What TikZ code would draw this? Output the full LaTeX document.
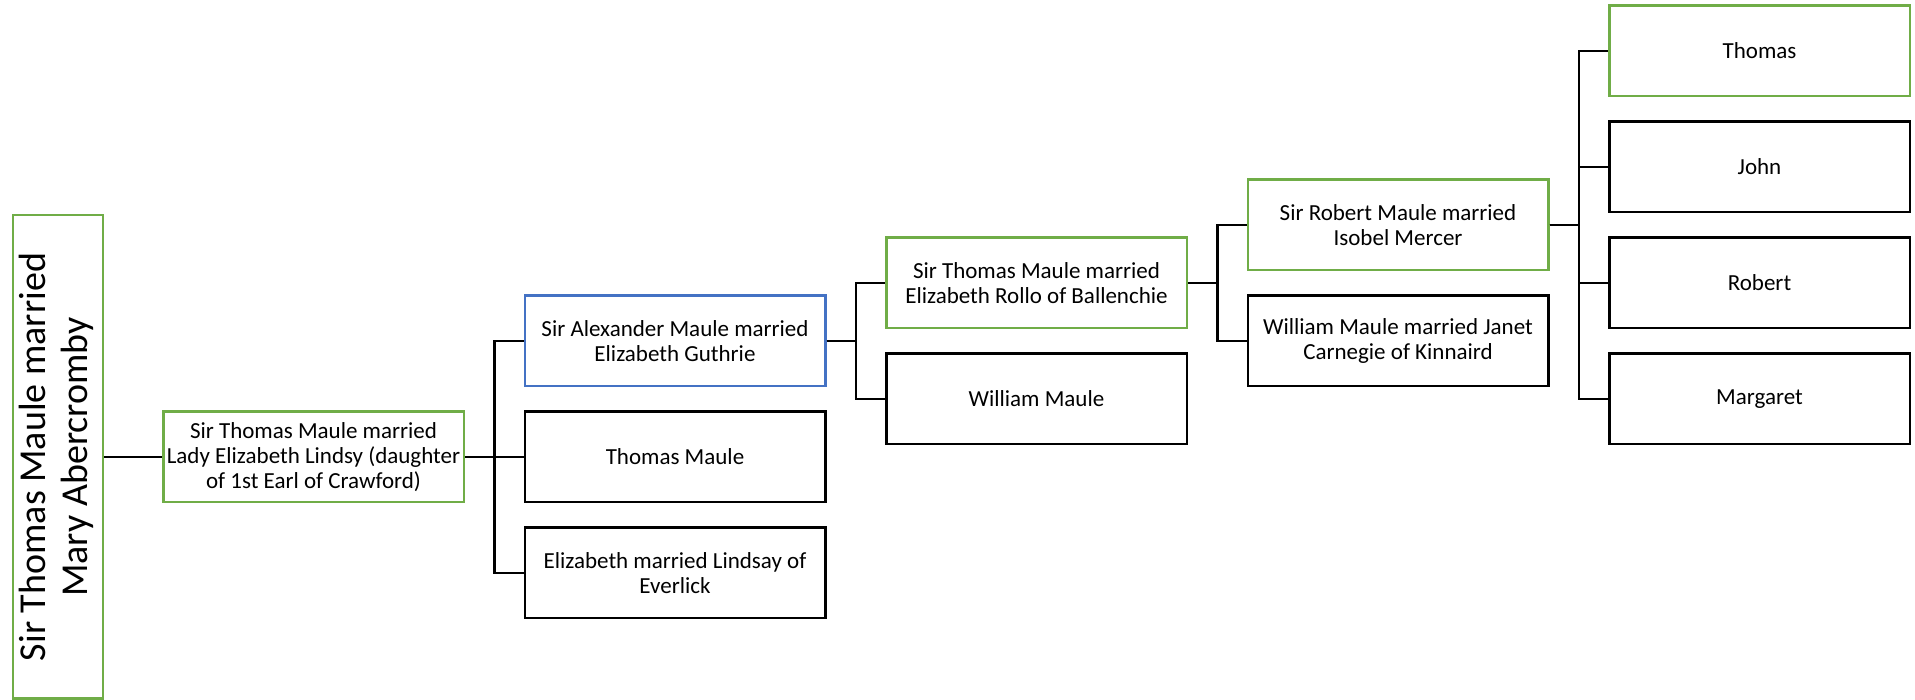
\documentclass[tikz,border=0pt]{standalone}
\usepackage{fontspec}
\setmainfont{Carlito}
\usepackage{tikz}
\usepackage{xcolor}
\usetikzlibrary{positioning}

\definecolor{heirgreen}{HTML}{70AD47}
\definecolor{linkblue}{HTML}{4472C4}

\begin{document}
    \begin{tikzpicture}[
            person/.style={draw=black, line width=2.5pt, minimum width=300.5pt, minimum height=90.5pt,
                inner sep=2pt, align=center, font=\fontsize{23}{25}\selectfont},
            heir/.style={person, draw=heirgreen},
            spouse/.style={person, draw=linkblue},
            link/.style={line width=2.5pt},
        ]
        \useasboundingbox (-58pt,-243pt) rectangle (1857pt,457pt); % 固定边距
        % 第一代（竖排文字）
        \node [heir, minimum width=89.5pt, minimum height=483.5pt, font=\fontsize{38}{42}\selectfont] (root) at (0,0)
            {\rotatebox{90}{\begin{tabular}{@{}c@{}}Sir Thomas Maule married\\Mary Abercromby\end{tabular}}};
        \node [heir, right=58pt of root] (lindsy) {Sir Thomas Maule married\\Lady Elizabeth Lindsy (daughter\\of 1st Earl of Crawford)};

        % 第三代
        \node [spouse, right=58.5pt of lindsy, yshift=116pt] (alexander) {Sir Alexander Maule married\\Elizabeth Guthrie};
        \node [person, below=23pt of alexander] (thomas) {Thomas Maule};
        \node [person, below=23pt of thomas] (elizabeth) {Elizabeth married Lindsay of\\Everlick};

        % 第四代
        \node [heir, right=58.5pt of alexander, yshift=58pt] (rollo) {Sir Thomas Maule married\\Elizabeth Rollo of Ballenchie};
        \node [person, below=23pt of rollo] (william) {William Maule};

        % 第五代
        \node [heir, right=58.5pt of rollo, yshift=58pt] (mercer) {Sir Robert Maule married\\Isobel Mercer};
        \node [person, below=23pt of mercer] (janet) {William Maule married Janet\\Carnegie of Kinnaird};

        % 第六代
        \node [heir, right=58.5pt of mercer, yshift=174pt] (sonthomas) {Thomas};
        \node [person, below=23pt of sonthomas] (sonjohn) {John};
        \node [person, below=23pt of sonjohn] (sonrobert) {Robert};
        \node [person, below=23pt of sonrobert] (margaret) {Margaret};

        % 连线（直角折线）
        \draw [link] (root) -- (lindsy);
        \foreach \kid in {alexander,thomas,elizabeth}
            \draw [link] (lindsy.east) -- ++(29.25pt,0) |- (\kid.west);
        \foreach \kid in {rollo,william}
            \draw [link] (alexander.east) -- ++(29.25pt,0) |- (\kid.west);
        \foreach \kid in {mercer,janet}
            \draw [link] (rollo.east) -- ++(29.25pt,0) |- (\kid.west);
        \foreach \kid in {sonthomas,sonjohn,sonrobert,margaret}
            \draw [link] (mercer.east) -- ++(29.25pt,0) |- (\kid.west);
    \end{tikzpicture}
\end{document}
